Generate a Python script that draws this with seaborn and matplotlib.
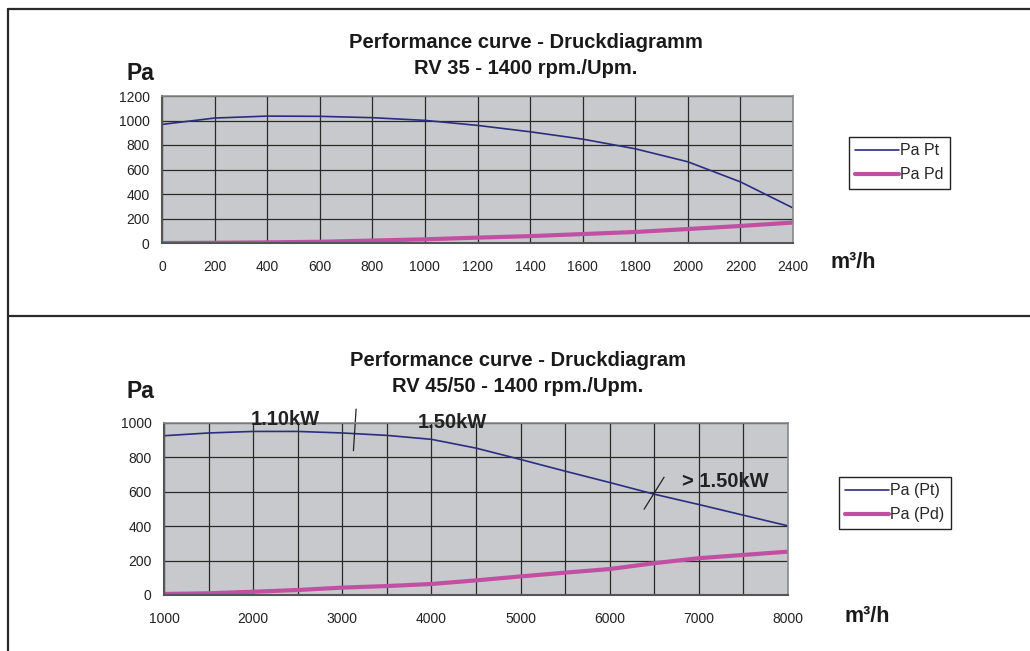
import numpy as np
import pandas as pd
import matplotlib
matplotlib.use("Agg")
import matplotlib.pyplot as plt
import seaborn as sns
from matplotlib.lines import Line2D
from matplotlib.ticker import MultipleLocator

# RV 35 data
flow_35 = [0, 200, 400, 600, 800, 1000, 1200, 1400, 1600, 1800, 2000, 2200, 2400]
pt_35 = [968, 1020, 1036, 1034, 1023, 1001, 960, 908, 848, 769, 663, 499, 286]
pd_35 = [0, 2, 5, 10, 20, 30, 44, 56, 73, 90, 114, 139, 167]

# RV 45/50 data
flow_45 = [1000, 1500, 2000, 2500, 3000, 3500, 4000, 4500, 5000, 5500, 6000, 6500, 7000, 7500, 8000]
pt_45 = [926, 942, 951, 951, 942, 928, 905, 854, 788, 720, 654, 586, 526, 464, 402]
pd_45 = [6, 10, 19, 29, 43, 52, 64, 85, 108, 130, 151, 185, 214, 233, 252]

W, H = 1030, 651
C_PT = "#2b2e80"
C_PD = "#c150a2"
BG = "#c8c9cc"

sns.set_style("white", rc={"axes.facecolor": BG})
plt.rcParams["font.family"] = ["Liberation Sans", "DejaVu Sans"]

fig = plt.figure(figsize=(W / 100, H / 100), dpi=100)


def fx(x):
    return x / W


def fy(y):
    return 1 - y / H


def make_axes(l, t, r, b):
    return fig.add_axes([fx(l), fy(b), fx(r - l), (b - t) / H])


def style_axes(ax, pad_x):
    for s in ["top", "right"]:
        ax.spines[s].set_color("#8a8a8a")
        ax.spines[s].set_linewidth(1.2)
    for s in ["left", "bottom"]:
        ax.spines[s].set_color("#555555")
        ax.spines[s].set_linewidth(1.5)
    ax.grid(True, which="both", color="#2a2a2a", linewidth=0.9)
    ax.set_axisbelow(True)
    ax.tick_params(axis="both", which="both", direction="out", length=4,
                   width=1, color="#444444", labelsize=10, labelcolor="#222222")
    ax.tick_params(axis="x", which="both", pad=pad_x)
    ax.tick_params(axis="y", pad=5)
    ax.set_xlabel("")
    ax.set_ylabel("")


def add_legend(ax, x, y):
    leg = ax.legend(loc="upper left", bbox_to_anchor=(fx(x), fy(y)),
                    bbox_transform=fig.transFigure, frameon=True, fancybox=False,
                    edgecolor="#222222", facecolor="white", framealpha=1, fontsize=11.5,
                    handlelength=2.7, handletextpad=0.1, borderpad=0.4, labelspacing=0.55,
                    borderaxespad=0)
    leg.get_frame().set_linewidth(1.0)


# ---- top chart ----
ax1 = make_axes(162, 96, 793, 243)
df1 = pd.DataFrame({"flow": flow_35, "pt": pt_35, "pd": pd_35})
sns.lineplot(data=df1, x="flow", y="pt", ax=ax1, color=C_PT, linewidth=1.2, label="Pa Pt")
sns.lineplot(data=df1, x="flow", y="pd", ax=ax1, color=C_PD, linewidth=3.0, label="Pa Pd")
ax1.set_xlim(0, 2400)
ax1.set_ylim(0, 1200)
ax1.xaxis.set_major_locator(MultipleLocator(200))
ax1.yaxis.set_major_locator(MultipleLocator(200))
style_axes(ax1, 8)
add_legend(ax1, 849, 137)

# ---- bottom chart ----
ax2 = make_axes(164, 423, 788, 595)
df2 = pd.DataFrame({"flow": flow_45, "pt": pt_45, "pd": pd_45})
sns.lineplot(data=df2, x="flow", y="pt", ax=ax2, color=C_PT, linewidth=1.2, label="Pa (Pt)")
sns.lineplot(data=df2, x="flow", y="pd", ax=ax2, color=C_PD, linewidth=3.0, label="Pa (Pd)")
ax2.set_xlim(1000, 8000)
ax2.set_ylim(0, 1000)
ax2.xaxis.set_major_locator(MultipleLocator(1000))
ax2.xaxis.set_minor_locator(MultipleLocator(500))
ax2.yaxis.set_major_locator(MultipleLocator(200))
style_axes(ax2, 8)
add_legend(ax2, 839, 477)

# power annotations
ax2.plot([3155, 3125], [1081, 839], color="#222222", linewidth=0.9, clip_on=False)
ax2.plot([6610, 6386], [685, 499], color="#222222", linewidth=0.9, clip_on=False)
akw = dict(va="center", fontsize=14.5, fontweight="bold", color="#222222", clip_on=False)
ax2.text(2366, 1019, "1.10kW", ha="center", **akw)
ax2.text(4236, 1002, "1.50kW", ha="center", **akw)
ax2.text(6812, 658, "> 1.50kW", ha="left", **akw)

# titles and axis labels
tkw = dict(ha="center", va="center", fontsize=14.5, fontweight="bold", color="#1a1a1a")
fig.text(fx(526), fy(43), "Performance curve - Druckdiagramm", **tkw)
fig.text(fx(526), fy(69), "RV 35 - 1400 rpm./Upm.", **tkw)
fig.text(fx(518), fy(360), "Performance curve - Druckdiagram", **tkw)
fig.text(fx(518), fy(387), "RV 45/50 - 1400 rpm./Upm.", **tkw)

lkw = dict(va="center", fontsize=16.5, fontweight="bold", color="#1a1a1a")
fig.text(fx(127), fy(73), "Pa", ha="left", **lkw)
fig.text(fx(127), fy(392), "Pa", ha="left", **lkw)
lkw["fontsize"] = 15.5
fig.text(fx(831), fy(263), "m³/h", ha="left", **lkw)
fig.text(fx(844), fy(617), "m³/h", ha="left", **lkw)

# page frame lines
fkw = dict(color="#2a2a2a", linewidth=1.6, transform=fig.transFigure)
fig.add_artist(Line2D([fx(7.5), 1], [fy(9), fy(9)], **fkw))
fig.add_artist(Line2D([fx(7.5), fx(7.5)], [fy(9), 0], **fkw))
fig.add_artist(Line2D([fx(7.5), 1], [fy(316.5), fy(316.5)], **fkw))

fig.savefig("out.png", dpi=100)
